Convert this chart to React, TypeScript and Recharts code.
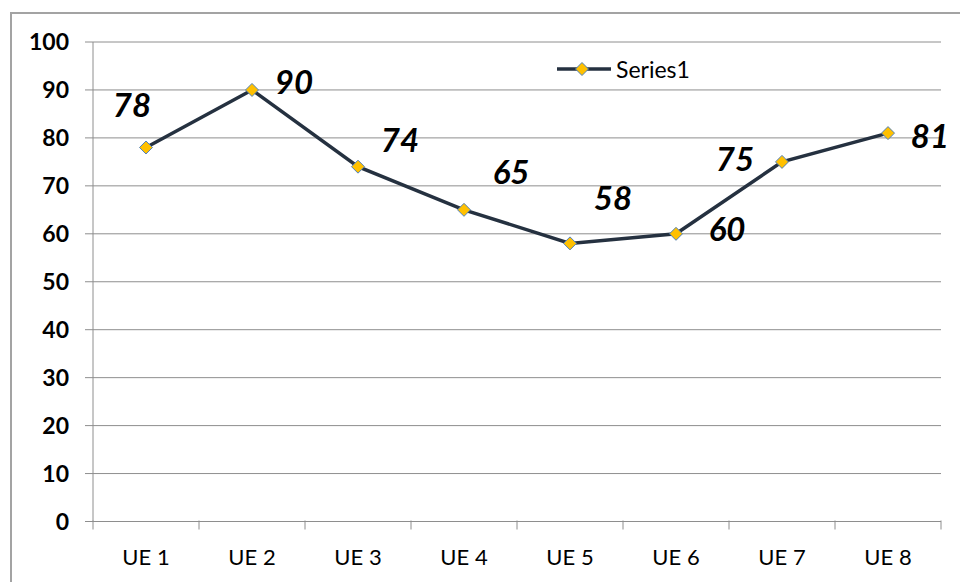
import { CartesianGrid, LabelList, Line, LineChart, XAxis, YAxis } from "recharts";

const categories = ["UE 1", "UE 2", "UE 3", "UE 4", "UE 5", "UE 6", "UE 7", "UE 8"];
const series1 = [78, 90, 74, 65, 58, 60, 75, 81];
const yTicks = [0, 10, 20, 30, 40, 50, 60, 70, 80, 90, 100];

// label placement relative to each point (dx, dy)
const labelOffsets = [
  [-14, -43],
  [42, -9],
  [42, -28],
  [47, -39],
  [43, -46],
  [51, -6],
  [-47, -4],
  [42, 2],
];

const data = categories.map((name, i) => ({ name, value: series1[i] }));

const W = 960;
const H = 582;
const M = { top: 42, right: 19, bottom: 0, left: 0 };
const Y_W = 93;
const HALF_BAND = (W - M.left - M.right - Y_W) / categories.length / 2;

const FONT = "Lato, 'Liberation Sans', sans-serif";
const GRID = "#8e8e8e";
const LINE = "#253140";

function Diamond(props: any) {
  const { cx, cy } = props;
  if (cx == null || cy == null) return null;
  const r = 6.5;
  return (
    <path
      d={`M${cx},${cy - r} L${cx + r},${cy} L${cx},${cy + r} L${cx - r},${cy} Z`}
      fill="#FFC000"
      stroke="#4F81BD"
      strokeWidth={1}
    />
  );
}

function XTick(props: any) {
  const { x, y, payload, index } = props;
  const last = index === categories.length - 1;
  return (
    <g>
      <line x1={x - HALF_BAND} x2={x - HALF_BAND} y1={y - 9} y2={y} stroke={GRID} />
      {last && <line x1={x + HALF_BAND} x2={x + HALF_BAND} y1={y - 9} y2={y} stroke={GRID} />}
      <text x={x} y={y + 27} textAnchor="middle" dominantBaseline="central" fontFamily={FONT} fontSize={22} fill="#000">
        {payload.value}
      </text>
    </g>
  );
}

function PointLabel(props: any) {
  const { x, y, value, index } = props;
  const [dx, dy] = labelOffsets[index];
  return (
    <text
      x={x + dx}
      y={y + dy}
      textAnchor="middle"
      dominantBaseline="central"
      fontFamily={FONT}
      fontSize={33}
      fontWeight="bold"
      fontStyle="italic"
      fill="#000"
    >
      {value}
    </text>
  );
}

function LegendBox() {
  return (
    <svg width={150} height={30} style={{ display: "block" }}>
      <line x1={1} x2={55} y1={15} y2={15} stroke={LINE} strokeWidth={3.5} />
      <Diamond cx={26} cy={15} />
      <text x={60} y={15} dominantBaseline="central" fontFamily={FONT} fontSize={23} fill="#000">
        Series1
      </text>
    </svg>
  );
}

export default function App() {
  return (
    <div style={{ position: "absolute", left: 0, top: 0, width: W, height: H, background: "#fff", overflow: "hidden" }}>
      <div
        style={{
          position: "absolute",
          left: 10,
          top: 12,
          width: 1000,
          height: 1000,
          border: "2px solid #a3a3a3",
        }}
      />
      <div style={{ position: "absolute", left: 0, top: 0 }}>
        <LineChart width={W} height={H} data={data} margin={M}>
          <CartesianGrid horizontal vertical={false} stroke={GRID} />
          <XAxis
            dataKey="name"
            height={60.5}
            padding={{ left: HALF_BAND, right: HALF_BAND }}
            stroke={GRID}
            tickLine={false}
            tick={<XTick />}
            interval={0}
          />
          <YAxis
            width={Y_W}
            domain={[0, 100]}
            ticks={yTicks}
            interval={0}
            stroke={GRID}
            tickSize={8}
            tickMargin={16}
            tick={{ fontFamily: FONT, fontSize: 23, fontWeight: "bold", fill: "#000" }}
          />
          <Line
            dataKey="value"
            name="Series1"
            stroke={LINE}
            strokeWidth={3.5}
            dot={<Diamond />}
            activeDot={false}
            isAnimationActive={false}
          >
            <LabelList dataKey="value" content={<PointLabel />} />
          </Line>
        </LineChart>
      </div>
      <div style={{ position: "absolute", left: 556, top: 54 }}>
        <LegendBox />
      </div>
    </div>
  );
}
